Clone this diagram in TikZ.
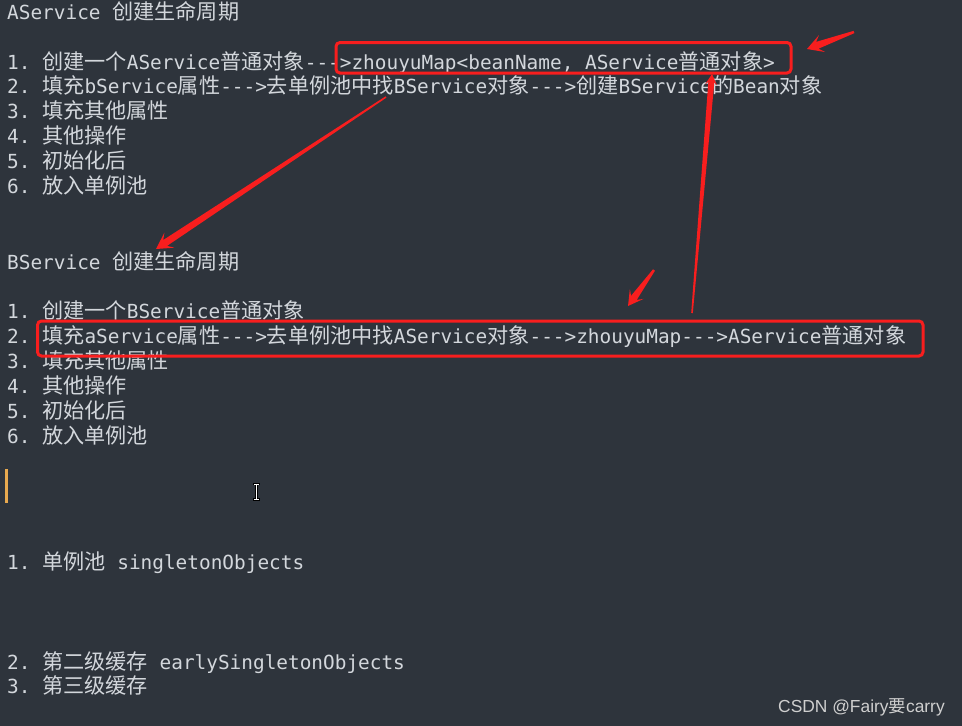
\documentclass[tikz,border=0pt]{standalone}
\usepackage{fontspec}
\usetikzlibrary{calc}
\setmonofont{DejaVu Sans Mono}
\newfontfamily\cjkf[Scale=1.09]{Noto Sans CJK SC}
\newfontfamily\wmf{Liberation Sans}
\newfontfamily\wmcjk{Noto Sans CJK SC}
\newcommand\zh[1]{{\cjkf #1}}
\newcommand\arr{-{}-{}->}
\definecolor{bgc}{HTML}{2E343C}
\definecolor{fgc}{HTML}{D3D7DC}
\definecolor{redc}{HTML}{F81E1E}
\definecolor{caretc}{HTML}{E8A94F}
\definecolor{wmc}{HTML}{CFCFCF}
\tikzset{
  txt/.style={anchor=base west, inner sep=0pt, text=fgc, font=\ttfamily\fontsize{19.4}{24}\selectfont},
  redbox/.style={draw=redc, line width=3pt, rounded corners=4pt},
  wm/.style={anchor=base west, inner sep=0pt, text=wmc, font=\wmf\fontsize{17.4}{20}\selectfont}
}
% #1 tail, #2 tip, #3 head length, #4 half head width, #5 notch distance, #6 half shaft width, #7 half tail width
\newcommand\tarrow[7]{%
  \path ($(#2)!#3!(#1)$) coordinate (hb) ($(#2)!#5!(#1)$) coordinate (nb);
  \fill[redc] ($(#1)!#7!90:(#2)$) -- ($(nb)!#6!90:(#2)$) -- ($(hb)!#4!90:(#2)$) -- (#2)
    -- ($(hb)!#4!-90:(#2)$) -- ($(nb)!#6!-90:(#2)$) -- ($(#1)!#7!-90:(#2)$) -- cycle;}
\begin{document}
\begin{tikzpicture}[x=1pt,y=-1pt]
\useasboundingbox (0,0) rectangle (962,726);
\fill[bgc] (0,0) rectangle (962,726);

% AService
\node[txt] (at) at (7,19) {AService \zh{创建生命周期}};
\node[txt] (a1) at (7,69) {1. \zh{创建一个}AService\zh{普通对象}\arr zhouyuMap<beanName, AService\zh{普通对象}>};
\node[txt] (a2) at (7,93) {2. \zh{填充}bService\zh{属性}\arr\zh{去单例池中找}BService\zh{对象}\arr\zh{创建}BService\zh{的}Bean\zh{对象}};
\node[txt] (a3) at (7,118) {3. \zh{填充其他属性}};
\node[txt] (a4) at (7,143) {4. \zh{其他操作}};
\node[txt] (a5) at (7,168) {5. \zh{初始化后}};
\node[txt] (a6) at (7,193) {6. \zh{放入单例池}};

% BService
\node[txt] (bt) at (7,269) {BService \zh{创建生命周期}};
\node[txt] (b1) at (7,318) {1. \zh{创建一个}BService\zh{普通对象}};
\node[txt] (b2) at (7,343) {2. \zh{填充}aService\zh{属性}\arr\zh{去单例池中找}AService\zh{对象}\arr zhouyuMap\arr AService\zh{普通对象}};
\node[txt] (b3) at (7,368) {3. \zh{填充其他属性}};
\node[txt] (b4) at (7,393) {4. \zh{其他操作}};
\node[txt] (b5) at (7,418) {5. \zh{初始化后}};
\node[txt] (b6) at (7,443) {6. \zh{放入单例池}};

% caches
\node[txt] (c1) at (7,569) {1. \zh{单例池} singletonObjects};
\node[txt] (c2) at (7,669) {2. \zh{第二级缓存} earlySingletonObjects};
\node[txt] (c3) at (7,693) {3. \zh{第三级缓存}};

% editor caret and mouse cursor
\fill[caretc] (5,469) rectangle (8,503);
\draw[black, line width=2.6pt] (253,484) -- (260,484) (256.5,484) -- (256.5,499.5) (253,499.5) -- (260,499.5);
\draw[white, line width=1pt] (253.8,484) -- (259.2,484) (256.5,484) -- (256.5,499.5) (253.8,499.5) -- (259.2,499.5);

% red boxes
\draw[redbox] (336,42.5) rectangle (791,73);
\draw[redbox] (37.5,321) rectangle (923,356);

% red arrows
\coordinate (t1) at (386,97);   \coordinate (h1) at (156,249);
\coordinate (t2) at (854,32);   \coordinate (h2) at (807,49);
\coordinate (t3) at (692,313);  \coordinate (h3) at (712,74);
\coordinate (t4) at (654,270);  \coordinate (h4) at (628,306);
\tarrow{t1}{h1}{16pt}{9pt}{11pt}{3.5pt}{0.8pt}
\tarrow{t2}{h2}{16pt}{9pt}{11pt}{3.6pt}{1.2pt}
\tarrow{t3}{h3}{11pt}{6pt}{8pt}{3pt}{0.8pt}
\tarrow{t4}{h4}{15pt}{8.5pt}{10pt}{3.5pt}{1.2pt}

% watermark
\node[wm] (wm) at (778,712) {CSDN @Fairy{\wmcjk 要}carry};
\end{tikzpicture}
\end{document}
